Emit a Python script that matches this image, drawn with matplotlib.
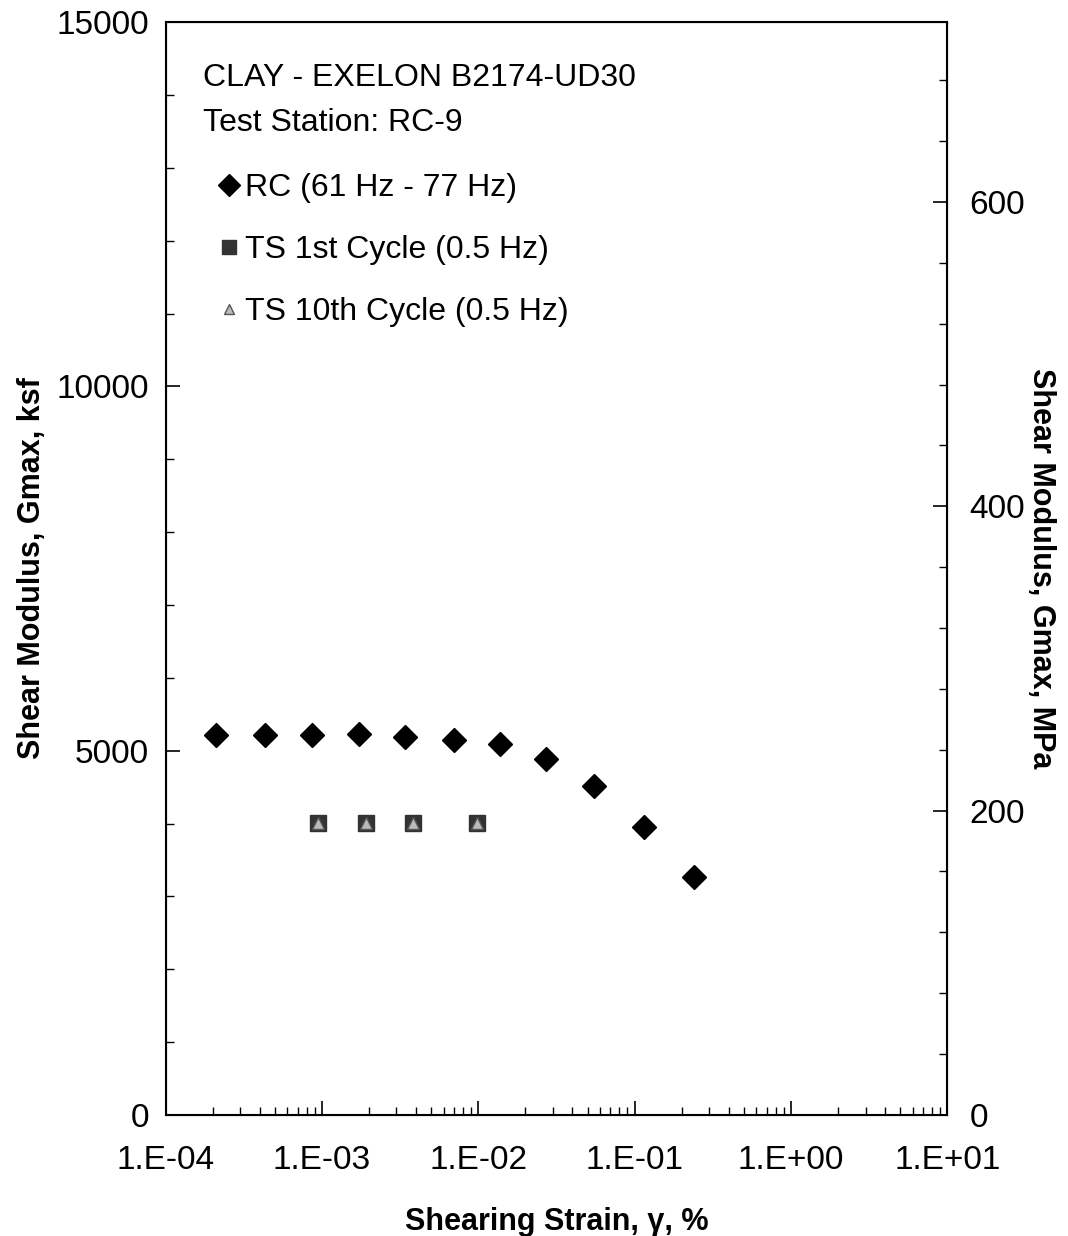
import numpy as np
import matplotlib.pyplot as plt
from matplotlib.ticker import MultipleLocator, LogLocator, NullFormatter

plt.rcParams['font.family'] = ['Liberation Sans', 'DejaVu Sans']

# resonant column data
rc_strain = [2.1e-4, 4.3e-4, 8.6e-4, 1.72e-3, 3.4e-3, 7.0e-3, 1.37e-2, 2.71e-2, 5.5e-2, 0.115, 0.24]
rc_gmax = [5215, 5215, 5215, 5228, 5187, 5146, 5091, 4885, 4515, 3952, 3266]

# torsional shear data
ts1_strain = [9.5e-4, 1.91e-3, 3.8e-3, 9.8e-3]
ts1_gmax = [4005, 4005, 4005, 4005]
ts10_strain = [9.5e-4, 1.91e-3, 3.8e-3, 9.8e-3]
ts10_gmax = [4005, 4005, 4005, 4005]

xticklabels = ['1.E-04', '1.E-03', '1.E-02', '1.E-01', '1.E+00', '1.E+01']
KSF_TO_MPA = 0.04788

fig = plt.figure(figsize=(10.68, 12.36), dpi=100)
ax = fig.add_axes([0.155, 0.098, 0.732, 0.884])

ax.plot(rc_strain, rc_gmax, 'D', color='black', markersize=12, linestyle='none',
        label='RC (61 Hz - 77 Hz)')
ax.plot(ts1_strain, ts1_gmax, 's', color='#333333', markersize=11, linestyle='none',
        label='TS 1st Cycle (0.5 Hz)')
ax.plot(ts10_strain, ts10_gmax, '^', markerfacecolor='#bbbbbb', markeredgecolor='#555555',
        markersize=8, linestyle='none', label='TS 10th Cycle (0.5 Hz)')

ax.set_xscale('log')
ax.set_xlim(1e-4, 1e1)
ax.set_ylim(0, 15000)
ax.set_xticks([1e-4, 1e-3, 1e-2, 1e-1, 1e0, 1e1])
ax.set_xticklabels(xticklabels)
ax.xaxis.set_minor_locator(LogLocator(base=10, subs=np.arange(2, 10), numticks=20))
ax.xaxis.set_minor_formatter(NullFormatter())
ax.yaxis.set_major_locator(MultipleLocator(5000))
ax.yaxis.set_minor_locator(MultipleLocator(1000))

ax.tick_params(which='both', direction='in', labelsize=24, right=False, top=False)
ax.tick_params(which='major', length=10, width=1.2)
ax.tick_params(which='minor', length=6, width=1)
ax.tick_params(axis='x', pad=22)
ax.tick_params(axis='y', pad=12)
for s in ax.spines.values():
    s.set_linewidth(1.5)

ax.set_xlabel('Shearing Strain, \u03b3, %', fontsize=22, fontweight='bold', labelpad=22)
ax.set_ylabel('Shear Modulus, Gmax, ksf', fontsize=22, fontweight='bold', labelpad=7)

ax2 = ax.twinx()
ax2.set_ylim(0, 15000 * KSF_TO_MPA)
ax2.yaxis.set_major_locator(MultipleLocator(200))
ax2.yaxis.set_minor_locator(MultipleLocator(40))
ax2.tick_params(which='both', direction='in', labelsize=24, pad=16)
ax2.tick_params(which='major', length=10, width=1.2)
ax2.tick_params(which='minor', length=6, width=1)
ax2.set_ylabel('Shear Modulus, Gmax, MPa', fontsize=22, fontweight='bold',
               rotation=-90, labelpad=22)

ax.text(0.048, 0.949, 'CLAY - EXELON B2174-UD30', transform=ax.transAxes,
        fontsize=23, va='center')
ax.text(0.048, 0.908, 'Test Station: RC-9', transform=ax.transAxes,
        fontsize=23, va='center')
leg = ax.legend(loc='upper left', bbox_to_anchor=(0.024, 0.888), frameon=False,
                fontsize=23, handletextpad=0.0, handlelength=1.0, labelspacing=1.0,
                markerscale=0.9)

fig.savefig('out.png', dpi=100)
